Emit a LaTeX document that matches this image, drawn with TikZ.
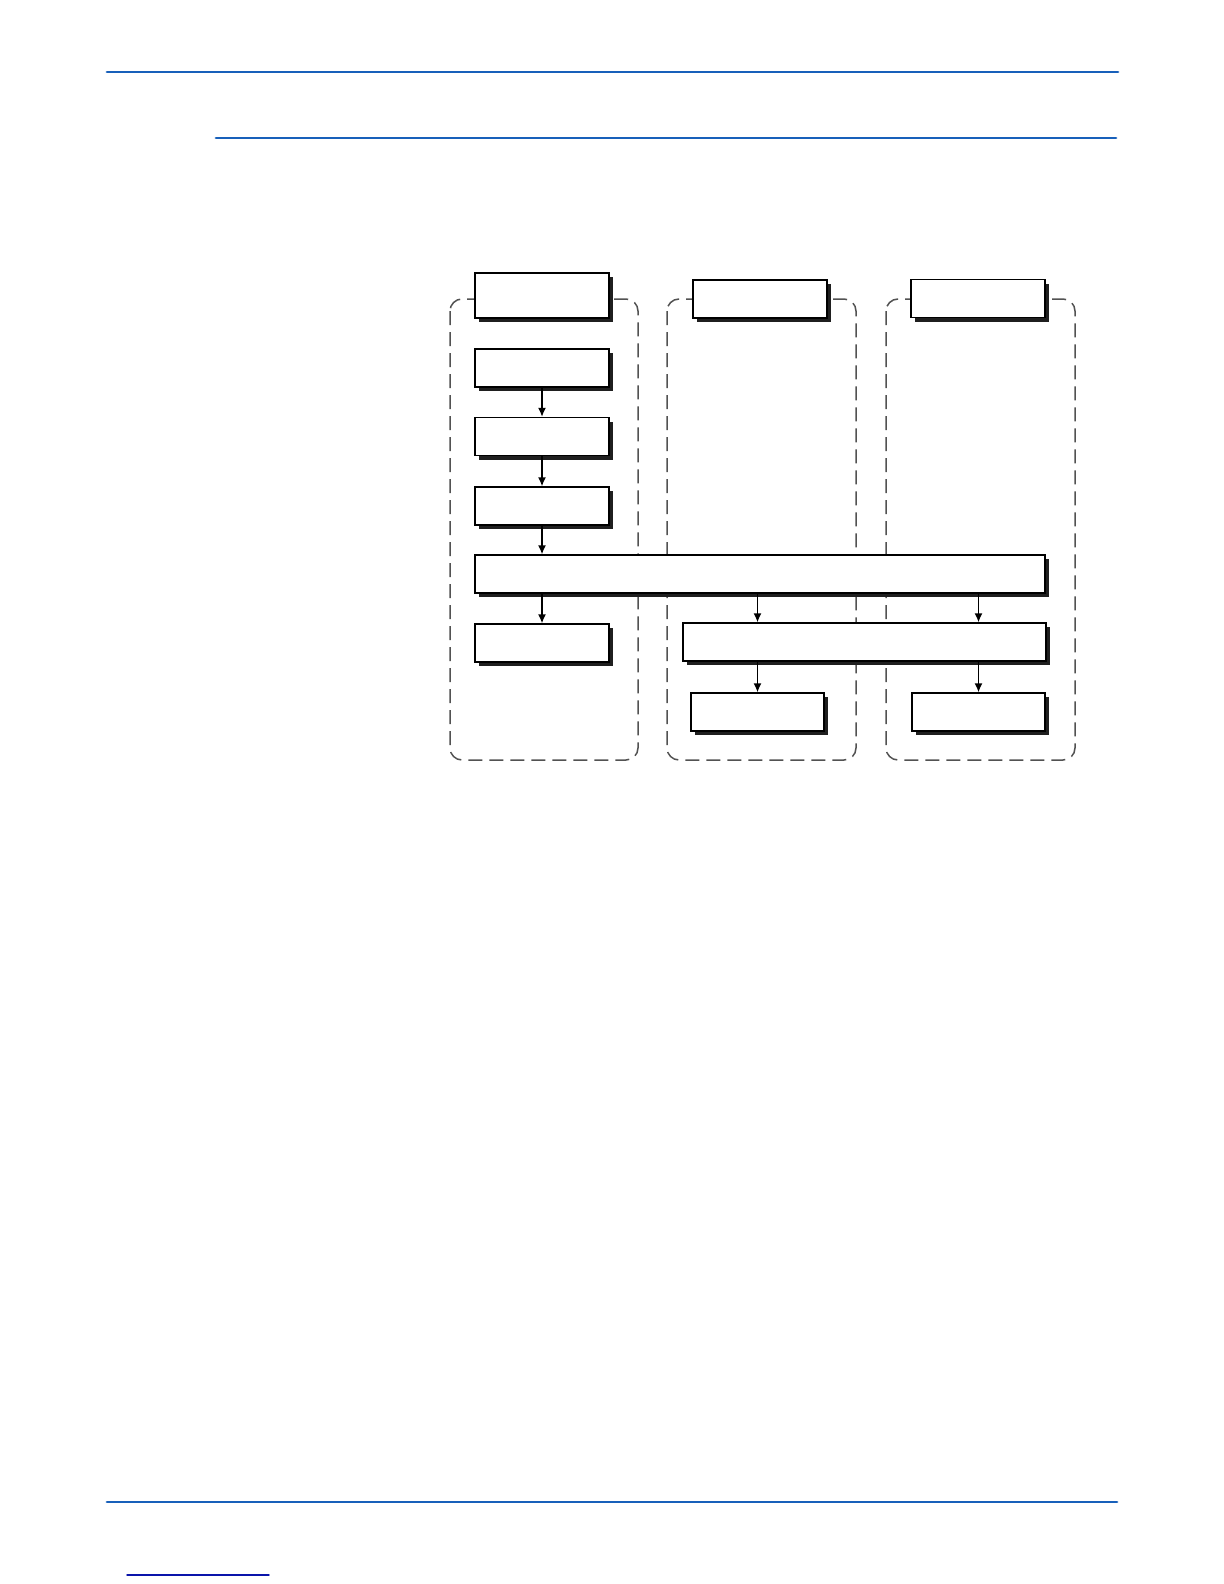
\documentclass[tikz,border=0pt]{standalone}
\usepackage{tikz}
\usetikzlibrary{shadows,arrows.meta}
\usepackage{color}

\begin{document}
\begin{tikzpicture}
			[x=0.5bp,y=-0.5bp,line cap=round,
			%Styles
			rule/.style={line width=1.4bp,draw=ruleblue},
			group/.style={draw=black!68,line width=0.75bp,line cap=butt,dash pattern=on 7bp off 3.5bp,rounded corners=6bp},
			main box/.style={draw,fill=white,line width=0.7bp,inner sep=0pt,
				minimum width=67bp,minimum height=19bp,
				drop shadow={shadow xshift=2bp,shadow yshift=-2bp,opacity=1,fill=black!88}},
			flow/.style={-{Latex[length=4.5bp,width=4bp]},line width=0.7bp}
			]
			
			%Colors
			\definecolor{ruleblue}{RGB}{24,96,186}	%page rules
			\definecolor{footblue}{RGB}{10,20,170}	%footer rule
			
			\useasboundingbox (0,0) rectangle (1224,1584);
			
			%Page rules
			\draw[rule] (107,72) -- (1118,72);
			\draw[rule] (216,138) -- (1116,138);
			\draw[rule] (107,1502) -- (1117,1502);
			\draw[line width=0.7bp,draw=footblue] (127,1575) -- (269,1575);
			
			%Groups
			\draw[group] (450,299) rectangle (638,760);
			\draw[group] (667,299) rectangle (856,760);
			\draw[group] (886,299) rectangle (1075,760);
			
			%The graphic
			\node[main box,minimum height=22.5bp] (hdrA) at (542,295.5) {};
			\node[main box] (hdrB) at (760,299) {};
			\node[main box] (hdrC) at (978,298.5) {};
			
			\node[main box] (stepA1) at (542,368) {};
			\node[main box] (stepA2) at (542,436.5) {};
			\node[main box] (stepA3) at (542,506) {};
			
			\node[main box,minimum width=285bp] (wide1) at (760,574) {};
			\node[main box] (outA) at (542,643) {};
			\node[main box,minimum width=181.5bp] (wide2) at (864.5,642) {};
			
			\node[main box,minimum width=66.5bp] (outB) at (757.5,712) {};
			\node[main box,minimum width=66.5bp] (outC) at (978.5,712) {};
			
			\draw[flow] (stepA1) -- (stepA2);
			\draw[flow] (stepA2) -- (stepA3);
			\draw[flow] (stepA3) -- (stepA3 |- wide1.north);
			\draw[flow] (wide1.south -| outA) -- (outA);
			\draw[flow] (wide1.south -| outB) -- (wide2.north -| outB);
			\draw[flow] (wide1.south -| outC) -- (wide2.north -| outC);
			\draw[flow] (wide2.south -| outB) -- (outB);
			\draw[flow] (wide2.south -| outC) -- (outC);
		\end{tikzpicture}
\end{document}
